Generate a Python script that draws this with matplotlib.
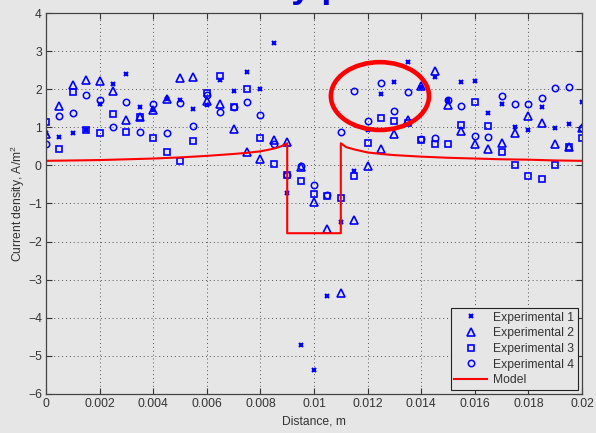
import matplotlib
matplotlib.use("Agg")
import matplotlib.pyplot as plt
from matplotlib.patches import Ellipse

plt.rcParams["font.family"] = ["Liberation Sans", "DejaVu Sans"]
plt.rcParams["mathtext.fontset"] = "custom"
plt.rcParams["mathtext.rm"] = "Liberation Sans"
plt.rcParams["mathtext.it"] = "Liberation Sans:italic"

# Measurement positions along the electrode, m
distance = [0.0, 0.0005, 0.001, 0.0015, 0.002, 0.0025, 0.003, 0.0035, 0.004, 0.0045,
            0.005, 0.0055, 0.006, 0.0065, 0.007, 0.0075, 0.008, 0.0085, 0.009, 0.0095,
            0.01, 0.0105, 0.011, 0.0115, 0.012, 0.0125, 0.013, 0.0135, 0.014, 0.0145,
            0.015, 0.0155, 0.016, 0.0165, 0.017, 0.0175, 0.018, 0.0185, 0.019, 0.0195,
            0.02]

# Measured current density, A/m^2
exp1 = [0.85, 0.75, 0.86, 0.92, 1.60, 2.14, 2.40, 1.53, 1.45, 1.74,
        1.72, 1.48, 1.58, 2.24, 1.95, 2.46, 2.00, 3.22, -0.73, -4.72,
        -5.37, -3.43, -1.48, -0.15, 0.93, 1.87, 2.19, 2.72, 2.07, 2.33,
        1.72, 2.18, 2.22, 1.38, 1.60, 1.02, 0.93, 1.53, 0.98, 1.09,
        1.67]
exp2 = [0.82, 1.56, 2.12, 2.25, 2.21, 1.96, 1.18, 1.28, 1.46, 1.75,
        2.30, 2.33, 1.70, 1.61, 0.96, 0.35, 0.16, 0.67, 0.61, -0.05,
        -0.97, -1.67, -3.34, -1.43, -0.02, 0.44, 0.82, 1.20, 2.09, 2.49,
        1.58, 0.89, 0.55, 0.43, 0.60, 0.84, 1.30, 1.10, 0.55, 0.48,
        0.98]
exp3 = [1.15, 0.42, 1.93, 0.92, 0.86, 1.36, 0.88, 1.26, 0.73, 0.35,
        0.12, 0.63, 1.89, 2.35, 1.53, 2.01, 0.73, 0.03, -0.26, -0.40,
        -0.74, -0.80, -0.86, -0.28, 0.60, 1.24, 1.17, 1.10, 0.67, 0.55,
        0.57, 1.05, 1.66, 1.03, 0.36, 0.02, -0.27, -0.36, 0.01, 0.47,
        0.73]
exp4 = [0.56, 1.30, 1.38, 1.85, 1.72, 1.02, 1.66, 0.88, 1.62, 0.85,
        1.64, 1.03, 1.86, 1.40, 1.52, 1.67, 1.32, 0.55, -0.25, -0.02,
        -0.51, -0.77, 0.87, 1.96, 1.16, 2.15, 1.43, 1.92, 0.68, 0.72,
        1.72, 1.55, 0.78, 0.75, 1.81, 1.60, 1.61, 1.76, 2.02, 2.05,
        0.99]

# Model prediction
model_x = [0.0, 0.001, 0.002, 0.003, 0.004, 0.005, 0.006, 0.007, 0.0075, 0.008,
           0.0083, 0.0086, 0.0088, 0.009, 0.009, 0.011, 0.011, 0.0112, 0.0115, 0.012,
           0.0125, 0.013, 0.014, 0.015, 0.016, 0.017, 0.018, 0.019, 0.02]
model_y = [0.12, 0.13, 0.14, 0.16, 0.18, 0.21, 0.25, 0.30, 0.33, 0.37,
           0.41, 0.46, 0.51, 0.58, -1.78, -1.78, 0.58, 0.48, 0.42, 0.34,
           0.30, 0.27, 0.23, 0.20, 0.18, 0.16, 0.15, 0.13, 0.12]

x_ticks = [0, 0.002, 0.004, 0.006, 0.008, 0.01, 0.012, 0.014, 0.016, 0.018, 0.02]
x_ticklabels = ["0", "0.002", "0.004", "0.006", "0.008", "0.01", "0.012", "0.014",
                "0.016", "0.018", "0.02"]
y_ticks = [-6, -5, -4, -3, -2, -1, 0, 1, 2, 3, 4]

BG = "#e6e6e6"
FS = 8.7
TXT = "#333333"

fig = plt.figure(figsize=(5.96, 4.33), dpi=100, facecolor=BG)
ax = fig.add_axes([46 / 596, 1 - 394 / 433, 536 / 596, 381 / 433])
ax.set_facecolor(BG)

blue = "#0000ff"
ax.plot(distance, exp1, linestyle="none", marker="x", ms=3.2, mew=1.5,
        color=blue, label="Experimental 1")
ax.plot(distance, exp2, linestyle="none", marker="^", ms=5.6, mew=1.2,
        mfc="none", color=blue, label="Experimental 2")
ax.plot(distance, exp3, linestyle="none", marker="s", ms=4.6, mew=1.2,
        mfc="none", color=blue, label="Experimental 3")
ax.plot(distance, exp4, linestyle="none", marker="o", ms=4.6, mew=1.1,
        mfc="none", color=blue, label="Experimental 4")
ax.plot(model_x, model_y, color="#ff0000", lw=1.5, label="Model")

ax.set_xlim(0, 0.02)
ax.set_ylim(-6, 4)
ax.set_xticks(x_ticks)
ax.set_xticklabels(x_ticklabels)
ax.set_yticks(y_ticks)
ax.tick_params(direction="in", length=4, width=0.8, top=True, right=True,
               labelsize=FS, labelcolor=TXT, color="#333333", pad=3)
for s in ax.spines.values():
    s.set_color("#444444")
    s.set_linewidth(0.9)
ax.grid(True, color="#555555", linestyle=(0, (1, 3)), linewidth=0.7)

ax.set_xlabel("Distance, m", fontsize=FS, color=TXT, labelpad=4)
ax.set_ylabel("Current density, A/m$^2$", fontsize=FS, color=TXT, labelpad=1)

# Highlight around the region right of the gap
ax.add_patch(Ellipse((0.01246, 1.82), 0.00366, 1.78, fill=False,
                     edgecolor="#ff0000", lw=3.3, zorder=5))

leg = ax.legend(loc="lower right", fontsize=FS, frameon=True, fancybox=False,
                edgecolor="#222222", facecolor=BG, framealpha=1,
                handlelength=2.7, labelspacing=0.3, borderpad=0.3,
                handletextpad=0.5, borderaxespad=0.35)
leg.get_frame().set_linewidth(0.8)
for t in leg.get_texts():
    t.set_color(TXT)

# Slide heading above the figure (only the descenders fall inside)
title_kw = dict(fontsize=26, fontweight="bold", color="#0000dd", va="baseline")
renderer = fig.canvas.get_renderer()
probe = fig.text(0, 0, "Current density p", **title_kw)
w_all = probe.get_window_extent(renderer).width
probe.remove()
probe = fig.text(0, 0, "p", **title_kw)
w_p = probe.get_window_extent(renderer).width
probe.remove()
x_start = 321 - (w_all - w_p)
fig.text(x_start / 596, 1 + 2.5 / 433, "Current density profile", **title_kw)

fig.savefig("out.png", dpi=100, facecolor=BG)
